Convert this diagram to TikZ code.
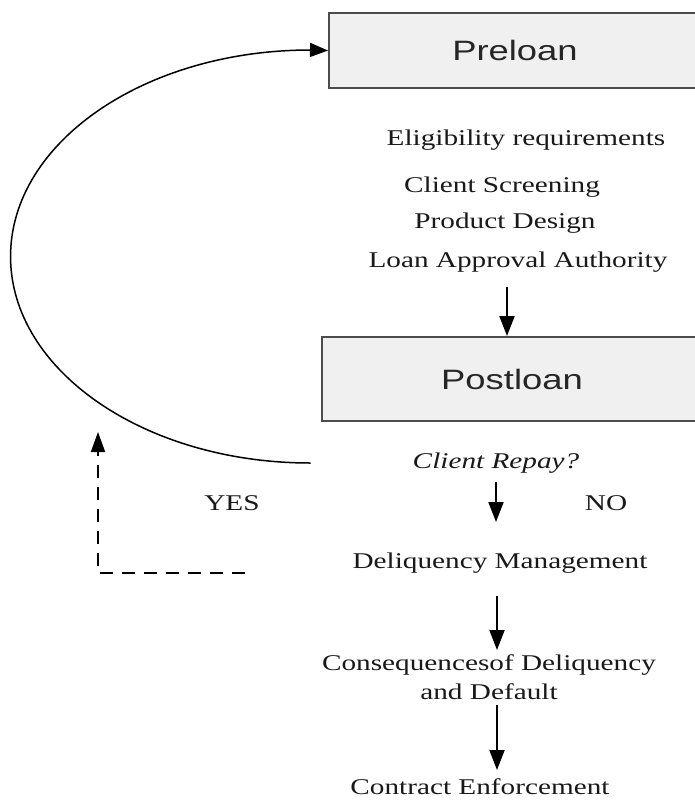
\documentclass[tikz,border=0pt]{standalone}
\usepackage{fontspec}
\setmainfont{Liberation Serif}[FakeStretch=1.3]
\newfontfamily\boxfont{Liberation Sans}[FakeStretch=1.3]
\usetikzlibrary{arrows.meta,calc}
\begin{document}
\begin{tikzpicture}[x=1pt,y=1pt,
  txt/.style={font=\fontsize{22.5}{29}\selectfont, text=black!90, inner sep=0pt, align=center},
  stage/.style={draw=black!70, line width=2pt, fill=black!6, font=\boxfont\fontsize{28}{32}\selectfont, text=black!85, minimum height=75pt},
  arr/.style={line width=2pt, -{Triangle[length=20pt,width=15pt]}},
  loop/.style={line width=1.5pt, -{Triangle[length=18pt,width=14pt]}},
  dashline/.style={line width=2pt, dash pattern=on 13pt off 9pt, -{Triangle[length=20pt,width=14pt]}}]
\clip (0,0) rectangle (695,-801);
\fill[white] (0,0) rectangle (695,-801);
% boxes
\node[stage, minimum width=372pt] (pre) at (515,-50.5) {Preloan};
\node[stage, minimum width=380pt, minimum height=84pt] (post) at (512,-379) {Postloan};
% texts
\node[txt] (elig) at (526,-140) {Eligibility requirements};
\node[txt] (cs) at (502,-187) {Client Screening};
\node[txt] (pd) at (505,-223) {Product Design};
\node[txt] (lap) at (518,-262) {Loan Approval Authority};
\node[txt, font=\itshape\fontsize{22.5}{29}\selectfont] (cr) at (496,-463) {Client Repay?};
\node[txt] (yes) at (232,-503) {YES};
\node[txt] (no) at (606,-503) {NO};
\node[txt] (dm) at (500,-563) {Deliquency Management};
\node[txt] (cons) at (489,-677) {Consequencesof Deliquency\\and Default};
\node[txt] (ce) at (480,-787) {Contract Enforcement};
% arrows
\draw[arr] ($(lap)+(-11,-25)$) -- ($(post.north)+(-5,0)$);
\draw[arr] ($(cr)+(0,-19)$) -- ($(dm)+(-4,41)$);
\draw[arr] ($(dm)+(-3,-33)$) -- ($(cons)+(8,27)$);
\draw[arr] ($(cons)+(8,-28)$) -- ($(ce)+(17,17)$);
% loop back
\coordinate (lstart) at ($(cr.west)+(-102,0)$);
\draw[loop] (lstart) arc[start angle=270, end angle=90, x radius=300, y radius=206.5] -- (pre.west);
% dashed yes
\coordinate (dstart) at ($(yes)+(13,-70)$);
\draw[dashline] (dstart) -- ($(dstart)+(-147,0)$) -- ($(dstart)+(-147,141)$);
\end{tikzpicture}
\end{document}
